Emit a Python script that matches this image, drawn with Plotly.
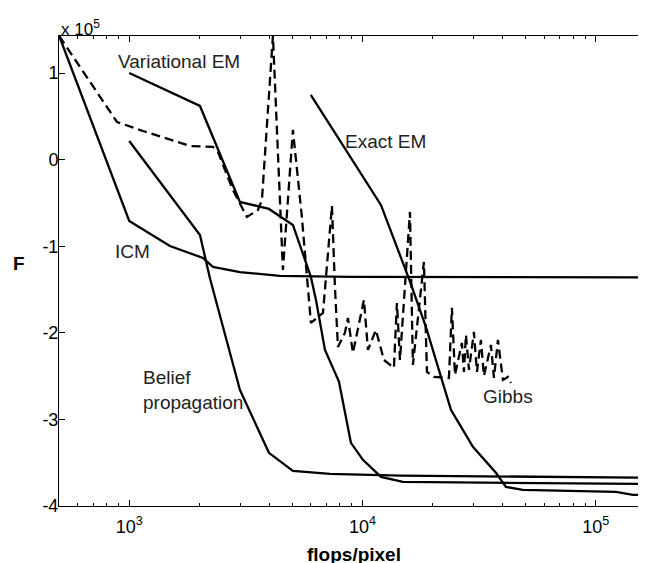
import math
import plotly.graph_objects as go

# ---------------- data (flops/pixel, F) ----------------
icm_x = [501, 1000, 1494, 2070, 2285, 2982, 4425, 8831, 164000]
icm_y = [1.428e5, -0.708e5, -0.997e5, -1.135e5, -1.239e5, -1.298e5, -1.343e5, -1.355e5, -1.36e5]

bp_x = [1000, 2010, 2218, 2982, 3970, 5030, 7250, 14600, 164000]
bp_y = [0.216e5, -0.87e5, -1.37e5, -2.66e5, -3.386e5, -3.594e5, -3.63e5, -3.65e5, -3.672e5]

vem_x = [1000, 2010, 2982, 3970, 5030, 6009, 6315, 6903, 7923, 8918, 10040, 11990, 14900, 164000]
vem_y = [1.0e5, 0.62e5, -0.488e5, -0.569e5, -0.754e5, -1.355e5, -1.62e5, -2.197e5, -2.563e5,
         -3.27e5, -3.467e5, -3.664e5, -3.722e5, -3.745e5]

eem_x = [6000, 11990, 15880, 18690, 23930, 29730, 37300, 41180, 48690, 122000, 144200, 164000]
eem_y = [0.747e5, -0.523e5, -1.389e5, -1.932e5, -2.89e5, -3.317e5, -3.617e5, -3.779e5,
         -3.814e5, -3.837e5, -3.872e5, -3.872e5]

gibbs_x = [501, 886, 1145, 1820, 2285, 2400, 2782, 3195, 3562, 3705, 4130, 4558, 4648, 5030,
           5500, 5778, 6009, 6768, 7395, 7616, 7845, 8404, 8658, 9096, 9557, 10140, 10550,
           11410, 12350, 13630, 14040, 14470, 15970, 16440, 18330, 18880, 20230, 23460, 24160,
           24900, 26670, 27200, 27750, 28590, 30020, 30930, 32170, 33140, 35510, 36590, 38050,
           39980, 42000, 43260]
gibbs_y = [1.428e5, 0.435e5, 0.331e5, 0.158e5, 0.147e5, 0.089e5, -0.35e5, -0.662e5, -0.581e5,
           -0.465e5, 1.43e5, -1.274e5, -0.95e5, 0.343e5, -0.673e5, -1.366e5, -1.886e5, -1.77e5,
           -0.534e5, -1.47e5, -2.163e5, -2.001e5, -1.828e5, -2.232e5, -1.967e5, -1.62e5,
           -2.197e5, -1.967e5, -2.313e5, -2.405e5, -1.655e5, -2.313e5, -0.604e5, -2.371e5,
           -1.181e5, -2.451e5, -2.509e5, -2.521e5, -1.712e5, -2.486e5, -2.117e5, -2.451e5,
           -2.024e5, -2.428e5, -1.99e5, -2.451e5, -2.082e5, -2.498e5, -2.14e5, -2.521e5,
           -2.082e5, -2.544e5, -2.509e5, -2.579e5]

y_ticks = [-4e5, -3e5, -2e5, -1e5, 0, 1e5]
y_tick_labels = ["-4", "-3", "-2", "-1", "0", "1"]
x_ticks = [1e3, 1e4, 1e5]
x_tick_labels = ["10<sup>3</sup>", "10<sup>4</sup>", "10<sup>5</sup>"]

FONT = "Liberation Sans, Arial, Helvetica, sans-serif"
LW = 2.3

fig = go.Figure()
for xs, ys in [(icm_x, icm_y), (bp_x, bp_y), (vem_x, vem_y), (eem_x, eem_y)]:
    fig.add_trace(go.Scatter(x=xs, y=ys, mode="lines",
                             line=dict(color="black", width=LW), showlegend=False))
fig.add_trace(go.Scatter(x=gibbs_x, y=gibbs_y, mode="lines",
                         line=dict(color="black", width=LW, dash="9px,5px"), showlegend=False))

minor_vals = [m * 10 ** e for e in range(2, 6) for m in range(2, 10)]

fig.update_xaxes(type="log", range=[math.log10(500), math.log10(500) + 587 / 233.3],
                 showline=True, linecolor="black", linewidth=1, mirror="ticks",
                 ticks="inside", ticklen=6, tickcolor="black", tickwidth=1,
                 tickmode="array", tickvals=x_ticks, ticktext=x_tick_labels,
                 ticklabelstandoff=4,
                 minor=dict(ticks="inside", ticklen=3, tickcolor="black", tickwidth=1,
                            tickmode="array", tickvals=minor_vals, showgrid=False),
                 showgrid=False, zeroline=False,
                 tickfont=dict(family=FONT, size=18, color="black"))
fig.update_yaxes(range=[-4e5, 1.428e5], showline=True, linecolor="black", linewidth=1,
                 mirror=False, ticks="inside", ticklen=6, tickcolor="black", tickwidth=1,
                 tickmode="array", tickvals=y_ticks, ticktext=y_tick_labels,
                 ticklabelstandoff=-4,
                 showgrid=False, zeroline=False,
                 tickfont=dict(family=FONT, size=18, color="black"))

TXT = "#222222"
def lab(text, x, y, xanchor="center", align="center"):
    fig.add_annotation(x=math.log10(x), y=y, xref="x", yref="y", text=text, showarrow=False,
                       xanchor=xanchor, yanchor="middle", align=align,
                       font=dict(family=FONT, size=19, color=TXT))

lab("Variational EM", 1633, 1.128e5)
lab("ICM", 1028, -1.066e5)
lab("Exact EM", 12590, 0.204e5)
lab("Belief<br>propagation", 1120, -2.66e5, xanchor="left", align="left")
lab("Gibbs", 42170, -2.74e5)

fig.add_annotation(x=0.0, y=0.99, xref="paper", yref="paper", text="x 10<sup>5</sup>",
                   showarrow=False, xanchor="left", yanchor="bottom",
                   font=dict(family=FONT, size=17, color="black"))
fig.add_annotation(x=-0.068, y=0.516, xref="paper", yref="paper", text="<b>F</b>",
                   showarrow=False, xanchor="center", yanchor="middle",
                   font=dict(family=FONT, size=19, color="black"))
fig.add_annotation(x=0.5026, y=-0.1028, xref="paper", yref="paper", text="<b>flops/pixel</b>",
                   showarrow=False, xanchor="center", yanchor="middle",
                   font=dict(family=FONT, size=19, color="black"))

# the page places the figure 8px from the window's top-left corner
fig.update_layout(width=638, height=555, margin=dict(l=51, r=0, t=28, b=57),
                  paper_bgcolor="white", plot_bgcolor="white", showlegend=False)

fig.write_html("out.html")
